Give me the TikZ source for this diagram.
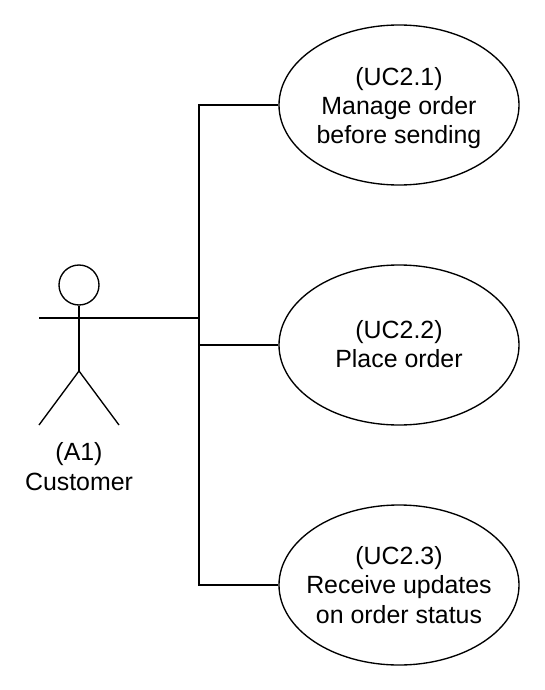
\documentclass[tikz,border=0pt]{standalone}
\usepackage{fontspec}
\setmainfont{Liberation Sans}
\usetikzlibrary{shapes.geometric}
\begin{document}
\begin{tikzpicture}[x=1pt,y=-1pt,
  line width=1.35pt,
  usecase/.style={draw,ellipse,minimum width=240pt,minimum height=160pt,inner sep=0pt},
  uclabel/.style={align=center,inner sep=0pt,font=\fontsize{24.9}{29.3}\selectfont},
  actorlabel/.style={uclabel},
  wire/.style={draw},
  thickwire/.style={draw,line width=2.8pt}]
\useasboundingbox (0,0) rectangle (544,690);
\node[usecase] (uc1) at (399,105) {};
\node[usecase] (uc2) at (399,345) {};
\node[usecase] (uc3) at (399,585) {};
\node[uclabel] (t1) at (399,108) {(UC2.1)\\Manage order\\before sending};
\node[uclabel] (t2) at (399,344) {(UC2.2)\\Place order};
\node[uclabel] (t3) at (399,585) {(UC2.3)\\Receive updates\\on order status};
\node[draw,circle,minimum size=40pt,inner sep=0pt] (head) at (79,285) {};
\coordinate (hip) at (79,371);
\coordinate (armL) at (39,318);
\coordinate (armR) at (119,318);
\coordinate (footL) at (39,425);
\coordinate (footR) at (119,425);
\draw (head.south) -- (hip);
\draw (armL) -- (armR);
\draw (footL) -- (hip) -- (footR);
\node[actorlabel,anchor=north] (a1) at (79,442) {(A1)\\Customer};
\coordinate (j1) at (199,318);
\draw[thickwire] (armR) -- (j1);
\draw[wire] (j1) |- (uc1.west);
\draw[wire] (j1) |- (uc2.west);
\draw[wire] (j1) |- (uc3.west);
\end{tikzpicture}
\end{document}
